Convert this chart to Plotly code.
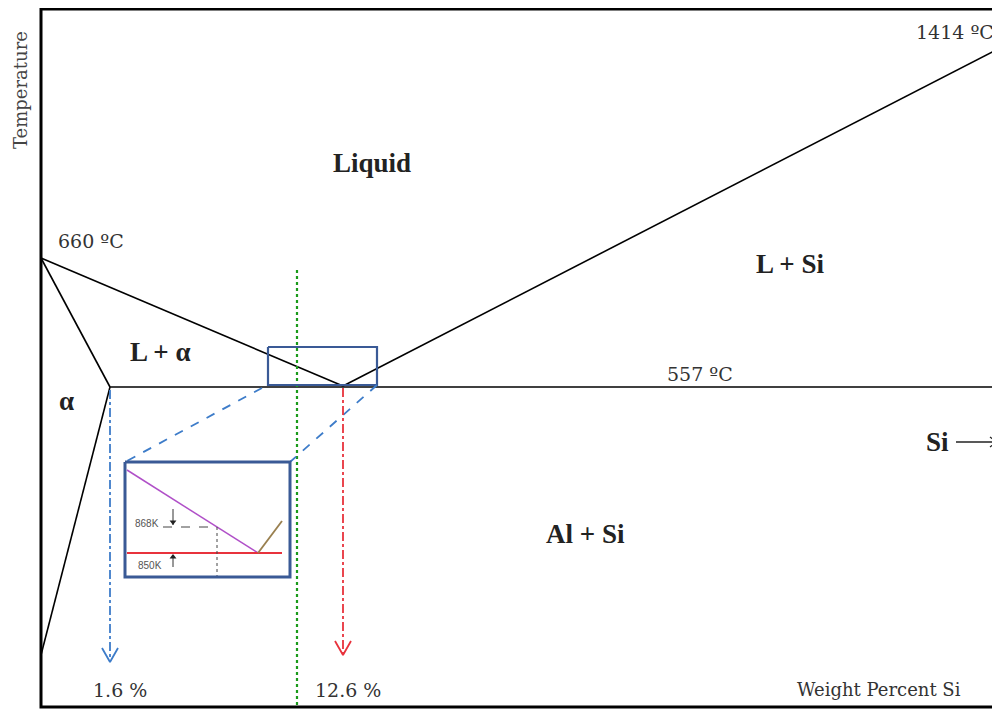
import plotly.graph_objects as go

# Schematic Al–Si phase diagram, coordinates in diagram units (x: composition axis, y: temperature axis, downward)
frame_x = [1000, 41, 41, 1000]
frame_y = [9, 9, 707, 707]

liq_left_x = [41, 343]
liq_left_y = [258, 386]
solidus_x = [41, 110]
solidus_y = [258, 387]
solvus_x = [110, 41]
solvus_y = [387, 655]
eutectic_x = [110, 1000]
eutectic_y = [387, 387]
liq_right_x = [343, 1000]
liq_right_y = [386, 48]

green_x = [297, 297]
green_y = [270, 708]

zoom_box_x = [268, 377, 377, 268, 268]
zoom_box_y = [347, 347, 385, 385, 347]
inset_x = [125, 290, 290, 125, 125]
inset_y = [462, 462, 577, 577, 462]
link_left_x = [262, 125]
link_left_y = [388, 462]
link_right_x = [377, 290]
link_right_y = [385, 462]

inset_purple_x = [127, 258]
inset_purple_y = [470, 553]
inset_red_x = [127, 282]
inset_red_y = [553, 553]
inset_brown_x = [258, 282]
inset_brown_y = [553, 521]
inset_hdash_x = [163, 217]
inset_hdash_y = [527, 527]
inset_vdot_x = [217, 217]
inset_vdot_y = [527, 577]

blue_drop_x = [110, 110]
blue_drop_y = [390, 662]
red_drop_x = [343, 343]
red_drop_y = [388, 655]

si_arrow_x = [956, 997]
si_arrow_y = [442, 442]

labels = ["Liquid", "L + Si", "L + α", "α", "Al + Si", "Si"]
labels_x = [372, 790, 160, 66, 585, 937]
labels_y = [163, 264, 352, 401, 534, 442]

temps = ["660 ºC", "557 ºC", "1414 ºC"]
temps_x = [91, 700, 955]
temps_y = [241, 374, 32]

pcts = ["1.6 %", "12.6 %"]
pcts_x = [120, 348]
pcts_y = [690, 690]

fig = go.Figure()

def line(x, y, color="black", width=1.6, dash="solid"):
    fig.add_trace(go.Scatter(x=x, y=y, mode="lines", hoverinfo="skip",
                             line=dict(color=color, width=width, dash=dash)))

line(frame_x, frame_y, width=3)
line(liq_left_x, liq_left_y)
line(solidus_x, solidus_y)
line(solvus_x, solvus_y)
line(eutectic_x, eutectic_y)
line(liq_right_x, liq_right_y)
line(green_x, green_y, color="#1a9a1a", width=2.2, dash="dot")
line(zoom_box_x, zoom_box_y, color="#3a5a96", width=2.2)
line(link_left_x, link_left_y, color="#3d7cc9", width=1.8, dash="dash")
line(link_right_x, link_right_y, color="#3d7cc9", width=1.8, dash="dash")
line(inset_purple_x, inset_purple_y, color="#b050c8", width=1.5)
line(inset_red_x, inset_red_y, color="#e8323c", width=2)
line(inset_brown_x, inset_brown_y, color="#9a8050", width=1.8)
line(inset_hdash_x, inset_hdash_y, color="#444444", width=1, dash="dash")
line(inset_vdot_x, inset_vdot_y, color="#444444", width=1, dash="dot")
line(inset_x, inset_y, color="#3a5a96", width=3)
line(blue_drop_x, blue_drop_y, color="#3d7cc9", width=1.8, dash="dashdot")
line(red_drop_x, red_drop_y, color="#e8323c", width=1.8, dash="dashdot")
line(si_arrow_x, si_arrow_y, color="#222222", width=1.3)
line([si_arrow_x[1] - 7, si_arrow_x[1], si_arrow_x[1] - 7],
     [si_arrow_y[1] - 5, si_arrow_y[1], si_arrow_y[1] + 5], color="#222222", width=1.3)

# arrowheads on the drop lines
for xs, ys, col in [(blue_drop_x, blue_drop_y, "#3d7cc9"), (red_drop_x, red_drop_y, "#e8323c")]:
    xb, yb = xs[1], ys[1]
    line([xb - 8, xb, xb + 8], [yb - 14, yb, yb - 14], color=col, width=1.8)

# inset small arrows
line([173, 173], [509, 525], color="#333333", width=1)
line([173, 173], [567, 555], color="#333333", width=1)
fig.add_trace(go.Scatter(x=[173, 173], y=[522, 557], mode="markers", hoverinfo="skip",
                         marker=dict(symbol=["triangle-down", "triangle-up"], size=6, color="#222222")))

ann = []
serif_b = "Liberation Serif"
serif = "DejaVu Serif"
for t, x, y in zip(labels, labels_x, labels_y):
    ann.append(dict(x=x, y=y, text="<b>%s</b>" % t, showarrow=False,
                    font=dict(family=serif_b, size=27, color="#222222")))
for t, x, y in zip(temps, temps_x, temps_y):
    ann.append(dict(x=x, y=y, text=t, showarrow=False,
                    font=dict(family=serif, size=19, color="#333333")))
for t, x, y in zip(pcts, pcts_x, pcts_y):
    ann.append(dict(x=x, y=y, text=t, showarrow=False,
                    font=dict(family=serif, size=19, color="#333333")))
ann.append(dict(x=879, y=689, text="Weight Percent Si", showarrow=False,
                font=dict(family=serif, size=18, color="#333333")))
ann.append(dict(x=20, y=90, text="Temperature", showarrow=False, textangle=-90,
                font=dict(family=serif, size=18, color="#444444")))
ann.append(dict(x=147, y=523, text="868K", showarrow=False,
                font=dict(family="Liberation Sans", size=10, color="#555555")))
ann.append(dict(x=150, y=565, text="850K", showarrow=False,
                font=dict(family="Liberation Sans", size=10, color="#555555")))

# page body has an 8px margin: size the figure so diagram units match window pixels
fig.update_layout(
    width=992, height=702,
    margin=dict(l=0, r=0, t=0, b=0),
    paper_bgcolor="white", plot_bgcolor="white",
    showlegend=False,
    xaxis=dict(range=[8, 1000], visible=False, fixedrange=True),
    yaxis=dict(range=[710, 8], visible=False, fixedrange=True),
    annotations=ann,
)

fig.write_html("out.html")
